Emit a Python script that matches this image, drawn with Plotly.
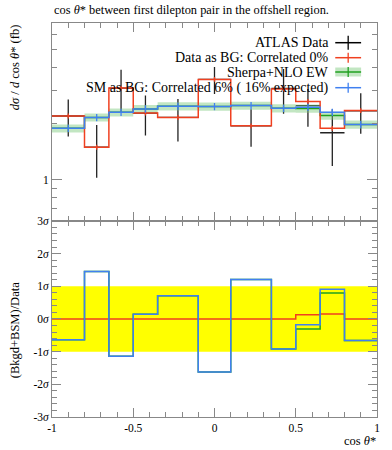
import plotly.graph_objects as go

# ---------------- data ----------------
edges = [-1.0, -0.8, -0.65, -0.5, -0.35, -0.1, 0.1, 0.35, 0.5, 0.65, 0.8, 1.0]
data_vals = [2.19, 1.49, 3.09, 2.27, 2.15, 3.44, 1.94, 3.08, 2.49, 1.78, 2.33]
data_errs = [0.49, 0.47, 0.79, 0.55, 0.55, 0.57, 0.44, 0.83, 0.57, 0.60, 0.57]
red_vals = [2.19, 1.49, 3.09, 2.27, 2.15, 3.44, 1.94, 3.06, 2.62, 1.88, 2.34]
sherpa_vals = [1.88, 2.15, 2.29, 2.39, 2.47, 2.46, 2.49, 2.41, 2.40, 2.20, 1.97]
sherpa_rel_band = 0.05
blue_vals = [1.88, 2.15, 2.29, 2.39, 2.47, 2.46, 2.49, 2.41, 2.44, 2.29, 1.97]

ratio_red = [0, 0, 0, 0, 0, 0, 0, 0, 0.13, 0.15, 0]
ratio_green = [-0.64, 1.45, -1.14, 0.14, 0.71, -1.62, 1.21, -0.92, -0.31, 0.79, -0.66]
ratio_blue = [-0.64, 1.45, -1.14, 0.14, 0.71, -1.62, 1.21, -0.92, -0.18, 0.91, -0.66]

x_ticks = [-1, -0.5, 0, 0.5, 1]
x_ticktext = ["-1", "-0.5", "0", "0.5", "1"]
sig_ticks = [-3, -2, -1, 0, 1, 2, 3]
sig_text = [f"{v}<i>σ</i>" for v in sig_ticks]

RED = "#f04020"
BLUE = "#4080f0"
GREEN = "#20a020"
BAND = "rgba(120,200,120,0.45)"
FRAME = "#888888"
FONT = "Liberation Serif"

centers = [(edges[i] + edges[i + 1]) / 2 for i in range(len(edges) - 1)]
halfw = [(edges[i + 1] - edges[i]) / 2 for i in range(len(edges) - 1)]


def step(vals):
    return list(edges), list(vals) + [vals[-1]]


fig = go.Figure()

# ---------------- top panel ----------------
fig.add_trace(go.Scatter(
    x=centers, y=data_vals, mode="markers", marker=dict(size=0.1, color="black"),
    error_y=dict(type="data", array=data_errs, color="#222222", thickness=1.3, width=0),
    error_x=dict(type="data", array=halfw, color="#222222", thickness=1.3, width=0),
    xaxis="x", yaxis="y", showlegend=False))

sx, sy = step(sherpa_vals)
lo = [v * (1 - sherpa_rel_band) for v in sy]
hi = [v * (1 + sherpa_rel_band) for v in sy]
fig.add_trace(go.Scatter(x=sx, y=lo, line=dict(width=0, shape="hv"), mode="lines",
                         xaxis="x", yaxis="y", showlegend=False))
fig.add_trace(go.Scatter(x=sx, y=hi, line=dict(width=0, shape="hv"), mode="lines",
                         fill="tonexty", fillcolor=BAND, xaxis="x", yaxis="y", showlegend=False))
fig.add_trace(go.Scatter(x=sx, y=sy, mode="lines", line=dict(color=GREEN, width=1.5, shape="hv"),
                         xaxis="x", yaxis="y", showlegend=False))

rx, ry = step(red_vals)
fig.add_trace(go.Scatter(x=rx, y=ry, mode="lines", line=dict(color=RED, width=1.5, shape="hv"),
                         xaxis="x", yaxis="y", showlegend=False))
fig.add_trace(go.Scatter(
    x=centers, y=red_vals, mode="markers", marker=dict(size=0.1, color=RED),
    error_y=dict(type="percent", value=3, color=RED, thickness=1.3, width=0),
    xaxis="x", yaxis="y", showlegend=False))

bx, by = step(blue_vals)
fig.add_trace(go.Scatter(x=bx, y=by, mode="lines", line=dict(color=BLUE, width=1.5, shape="hv"),
                         xaxis="x", yaxis="y", showlegend=False))
fig.add_trace(go.Scatter(
    x=centers, y=blue_vals, mode="markers", marker=dict(size=0.1, color=BLUE),
    error_y=dict(type="percent", value=4.5, color=BLUE, thickness=1.3, width=0),
    xaxis="x", yaxis="y", showlegend=False))

# ---------------- ratio panel ----------------
fig.add_trace(go.Scatter(x=[edges[0], edges[-1]], y=[-1, -1], mode="lines", line=dict(width=0),
                         xaxis="x2", yaxis="y2", showlegend=False))
fig.add_trace(go.Scatter(x=[edges[0], edges[-1]], y=[1, 1], mode="lines", line=dict(width=0),
                         fill="tonexty", fillcolor="#ffff00", xaxis="x2", yaxis="y2", showlegend=False))
for vals, col in [(ratio_red, RED), (ratio_green, GREEN), (ratio_blue, BLUE)]:
    qx, qy = step(vals)
    fig.add_trace(go.Scatter(x=qx, y=qy, mode="lines", line=dict(color=col, width=1.5, shape="hv"),
                             xaxis="x2", yaxis="y2", showlegend=False))

# ---------------- axes ----------------
tickfont = dict(family=FONT, size=11.5, color="black")
common_x = dict(range=[-1, 1], showgrid=False, zeroline=False, showline=True, linecolor=FRAME,
                linewidth=1, mirror="allticks", ticks="inside", ticklen=9, tickcolor=FRAME,
                tickvals=x_ticks, ticktext=x_ticktext,
                minor=dict(ticks="inside", ticklen=5, dtick=0.1, tick0=0, tickcolor=FRAME))
top_dom = [0.4978, 1.0]
fig.update_layout(
    xaxis=dict(**common_x, domain=[0, 1], anchor="y", showticklabels=False),
    yaxis=dict(type="log", range=[-0.222, 0.839], domain=top_dom, anchor="x",
               showgrid=False, zeroline=False, showline=True, linecolor=FRAME, linewidth=1,
               mirror="allticks", ticks="inside", ticklen=10, tickcolor=FRAME,
               tickvals=[1], ticktext=["1"], tickfont=tickfont,
               minor=dict(ticks="inside", ticklen=5, tickcolor=FRAME,
                          tickvals=[0.6, 0.7, 0.8, 0.9, 2, 3, 4, 5, 6])),
    xaxis2=dict(**common_x, domain=[0, 1], anchor="y2", showticklabels=True, tickfont=tickfont),
    yaxis2=dict(range=[-3, 3], domain=[0, 0.4978], anchor="x2",
                showgrid=False, zeroline=False, showline=True, linecolor=FRAME, linewidth=1,
                mirror="allticks", ticks="inside", ticklen=9, tickcolor=FRAME,
                tickvals=sig_ticks, ticktext=sig_text, tickfont=tickfont,
                minor=dict(ticks="inside", ticklen=5, dtick=0.2, tick0=0, tickcolor=FRAME)),
    width=392, height=450,
    margin=dict(l=52, r=13, t=23, b=33),
    plot_bgcolor="white", paper_bgcolor="white",
    font=dict(family=FONT, size=12, color="black"),
    showlegend=False,
)

# ---------------- labels ----------------
W = 392 - 52 - 13
H = 450 - 23 - 33


def px(x):
    return (x - 52) / W


def py(y):
    return (450 - 33 - y) / H


ann = []
ann.append(dict(text="cos <i>θ</i>* between first dilepton pair in the offshell region.",
                x=px(52), y=py(10), xref="paper", yref="paper", xanchor="left", yanchor="middle",
                showarrow=False, font=dict(family=FONT, size=12.4)))
ann.append(dict(text="<i>dσ</i> / <i>d</i> cos <i>θ</i>* (fb)", textangle=-90,
                x=px(15), y=py(22), xref="paper", yref="paper", xanchor="center", yanchor="top",
                showarrow=False, font=dict(family=FONT, size=12.5)))
ann.append(dict(text="(Bkgd+BSM)/Data", textangle=-90,
                x=px(15), y=py(330), xref="paper", yref="paper", xanchor="center", yanchor="middle",
                showarrow=False, font=dict(family=FONT, size=12.5)))
ann.append(dict(text="cos <i>θ</i>*", x=px(380), y=py(441), xref="paper", yref="paper",
                xanchor="right", yanchor="middle", showarrow=False, font=dict(family=FONT, size=12.5)))

legend_rows = [
    ("ATLAS Data", "black", 42.7, False),
    ("Data as BG: Correlated 0%", RED, 57.7, False),
    ("Sherpa+NLO EW", GREEN, 72.0, True),
    ("SM as BG: Correlated 6% ( 16% expected)", BLUE, 87.7, False),
]
shapes = []
for label, col, yy, band in legend_rows:
    ann.append(dict(text=label, x=px(333), y=py(yy), xref="paper", yref="paper",
                    xanchor="right", yanchor="middle", showarrow=False,
                    font=dict(family=FONT, size=14)))
    if band:
        shapes.append(dict(type="rect", xref="paper", yref="paper", x0=px(337), x1=px(363),
                           y0=py(yy + 4.5), y1=py(yy - 4.5), fillcolor=BAND, line=dict(width=0)))
    shapes.append(dict(type="line", xref="paper", yref="paper", x0=px(337), x1=px(363),
                       y0=py(yy), y1=py(yy), line=dict(color=col, width=1.5)))
    vh = 7 if col == "black" else 5
    shapes.append(dict(type="line", xref="paper", yref="paper", x0=px(350), x1=px(350),
                       y0=py(yy - vh), y1=py(yy + vh), line=dict(color=col, width=1.3)))

fig.update_layout(annotations=ann, shapes=shapes)
fig.write_html("out.html", config={"displayModeBar": False},
               post_script="document.body.style.margin='0';document.body.style.overflow='hidden';")
